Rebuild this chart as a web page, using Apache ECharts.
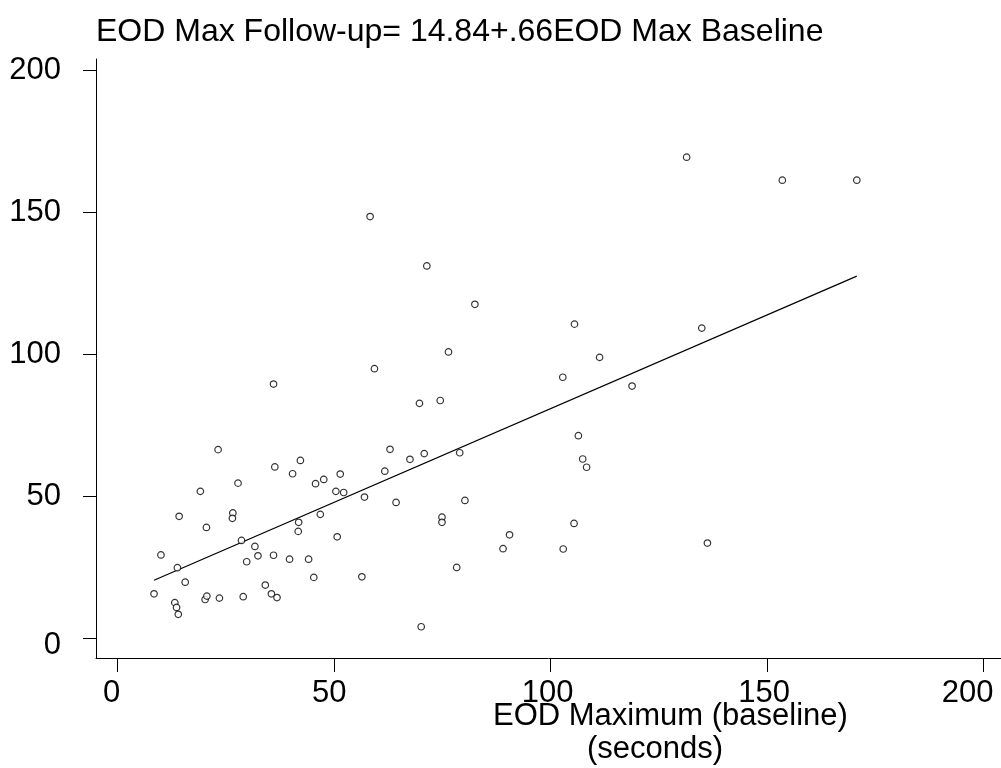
<!DOCTYPE html>
<html>
<head>
<meta charset="utf-8">
<title>EOD Max Follow-up vs Baseline</title>
<script src="https://cdn.jsdelivr.net/npm/echarts@6/dist/echarts.min.js"></script>
<style>
  html, body { margin: 0; padding: 0; background: #fff; }
  #chart { width: 1001px; height: 768px; }
</style>
</head>
<body>
<div id="chart"></div>
<script>
// EOD maximum at baseline (seconds), one entry per subject
const baselineMax = [
  8.4, 10.0, 13.2, 13.6, 14.0, 13.8, 14.2, 15.6, 19.1, 20.2,
  20.6, 20.5, 23.2, 23.5, 26.6, 26.5, 27.8, 28.6, 29.0, 29.8,
  31.7, 32.4, 34.1, 35.5, 36.0, 36.0, 36.3, 36.8, 39.7, 40.4,
  41.8, 41.7, 42.2, 44.1, 45.3, 45.7, 46.8, 47.6, 50.4, 50.7,
  51.4, 52.2, 56.4, 57.0, 58.3, 59.3, 61.7, 62.9, 64.3, 67.5,
  69.7, 70.1, 70.8, 71.4, 74.5, 74.9, 74.9, 76.4, 78.3, 79.0,
  80.2, 82.5, 89.0, 90.5, 102.9, 102.8, 105.4, 105.5, 106.4, 107.4,
  108.3, 111.3, 118.8, 131.4, 134.9, 136.2, 153.5, 170.7
];
// EOD maximum at follow-up (seconds), same subject order
const followupMax = [
  15.6, 29.3, 12.5, 10.8, 8.4, 24.8, 42.9, 19.7, 51.7, 13.6,
  14.8, 39.0, 66.4, 14.1, 44.1, 42.2, 54.6, 34.4, 14.6, 26.9,
  32.3, 29.0, 18.7, 15.6, 89.5, 29.2, 60.3, 14.3, 27.8, 57.9,
  40.8, 37.6, 62.6, 27.8, 21.4, 54.4, 43.6, 55.9, 51.7, 35.7,
  57.8, 51.3, 21.6, 49.7, 148.5, 94.9, 58.8, 66.5, 47.8, 63.0,
  82.7, 4.0, 65.0, 131.1, 83.7, 42.6, 40.8, 100.8, 24.9, 65.3,
  48.5, 117.6, 31.5, 36.4, 31.4, 91.9, 40.4, 110.6, 71.3, 63.1,
  60.2, 98.9, 88.8, 169.4, 109.2, 33.5, 161.3, 161.3
];
const xTicks = [0, 50, 100, 150, 200];
const yTicks = [0, 50, 100, 150, 200];
// Least-squares fit reported in the heading
const fitIntercept = 14.84;
const fitSlope = 0.66;

const FONT = '"Liberation Sans", Arial, Helvetica, sans-serif';

const points = baselineMax.map((x, i) => [x, followupMax[i]]);
const xLo = Math.min(...baselineMax);
const xHi = Math.max(...baselineMax);
const fitLine = [
  [xLo, fitIntercept + fitSlope * xLo],
  [xHi, fitIntercept + fitSlope * xHi]
];

// Small per-label nudges so the outer tick labels sit inside the canvas
const labelBase = { fontFamily: FONT, fontSize: 31, color: '#000' };
const xRich = {
  a: Object.assign({ padding: [0, 12, 0, 0] }, labelBase),
  b: Object.assign({ padding: [0, 10, 0, 0] }, labelBase),
  c: Object.assign({ padding: [0, 6, 0, 0] }, labelBase),
  e: Object.assign({ padding: [0, 32, 0, 0] }, labelBase)
};
const xStyleKey = { 0: 'a', 50: 'b', 100: 'c', 150: 'c', 200: 'e' };
const yRich = {
  n: Object.assign({}, labelBase),
  z: Object.assign({ padding: [15, 0, 0, 0] }, labelBase)
};

const chart = echarts.init(document.getElementById('chart'), null, { renderer: 'canvas' });
chart.setOption({
  backgroundColor: '#ffffff',
  animation: false,
  title: {
    text: 'EOD Max Follow-up= 14.84+.66EOD Max Baseline',
    left: 96,
    top: 16,
    padding: 0,
    textStyle: { fontFamily: FONT, fontSize: 32, fontWeight: 'normal', color: '#000' }
  },
  grid: {
    left: 96, right: 0, top: 59, bottom: 110,
    containLabel: false, outerBoundsMode: 'none'
  },
  xAxis: {
    type: 'value',
    min: -5,
    max: 204,
    splitLine: { show: false },
    axisLine: { show: true, onZero: false, lineStyle: { color: '#000', width: 1 } },
    axisTick: { show: true, length: 14, customValues: xTicks, lineStyle: { color: '#000', width: 1 } },
    axisLabel: {
      customValues: xTicks, margin: 20,
      fontFamily: FONT, fontSize: 31, color: '#000',
      hideOverlap: false,
      formatter: v => '{' + xStyleKey[v] + '|' + v + '}',
      rich: xRich
    }
  },
  yAxis: {
    type: 'value',
    min: -7,
    max: 204,
    splitLine: { show: false },
    axisLine: { show: true, onZero: false, lineStyle: { color: '#000', width: 1 } },
    axisTick: { show: true, length: 13, customValues: yTicks, lineStyle: { color: '#000', width: 1 } },
    axisLabel: {
      customValues: yTicks, margin: 35,
      fontFamily: FONT, fontSize: 31, color: '#000',
      formatter: v => '{' + (v === 0 ? 'z' : 'n') + '|' + v + '}',
      rich: yRich
    }
  },
  graphic: [
    {
      type: 'text', left: 493, top: 701,
      style: { text: 'EOD Maximum (baseline)', font: '31px ' + FONT, fill: '#000' }
    },
    {
      type: 'text', left: 587, top: 734,
      style: { text: '(seconds)', font: '31px ' + FONT, fill: '#000' }
    }
  ],
  series: [
    {
      type: 'scatter',
      data: points,
      symbol: 'circle',
      symbolSize: 6.5,
      itemStyle: { color: '#fff', borderColor: '#000', borderWidth: 1.2 },
      z: 3
    },
    {
      type: 'line',
      data: fitLine,
      showSymbol: false,
      symbol: 'none',
      lineStyle: { color: '#000', width: 1.2 },
      z: 2
    }
  ]
});
</script>
</body>
</html>
